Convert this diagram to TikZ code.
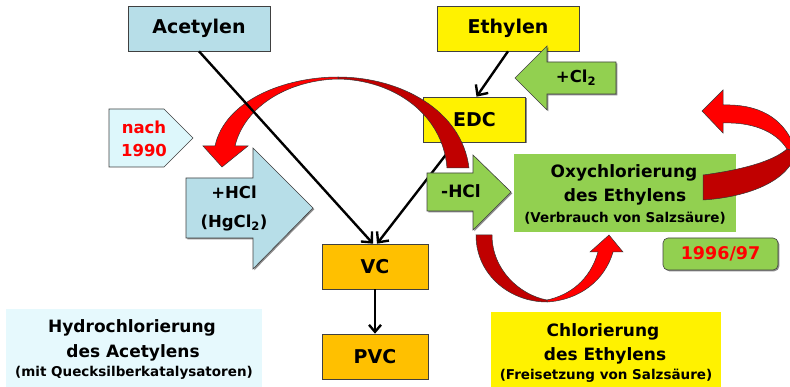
\documentclass[tikz,border=0pt]{standalone}
\usepackage{fontspec}
\setmainfont{DejaVu Sans}
\usetikzlibrary{arrows.meta,shadows}
\definecolor{lblue}{HTML}{B7DEE8}
\definecolor{pale}{HTML}{DDF7FB}
\definecolor{paler}{HTML}{E6F9FD}
\definecolor{ygreen}{HTML}{92D050}
\definecolor{orng}{HTML}{FFC000}
\definecolor{dred}{HTML}{C00000}
\definecolor{bred}{HTML}{FF0000}
\begin{document}
\begin{tikzpicture}[x=1pt,y=-1pt,
 shad/.style={drop shadow={shadow xshift=1.3pt,shadow yshift=-1.3pt,fill=black,opacity=.45}},
 box/.style={draw=black!75, line width=0.6pt, inner sep=0pt, shad, font=\fontsize{19}{22}\selectfont\bfseries},
 area/.style={inner sep=0pt},
 big/.style={inner sep=0pt, anchor=base, font=\fontsize{17}{20}\selectfont\bfseries},
 small/.style={inner sep=0pt, anchor=base, font=\fontsize{13.5}{16}\selectfont\bfseries},
 conn/.style={line width=2.4pt, -{Straight Barb[length=8pt,width=15pt,line width=2.4pt]}},
 blk/.style={draw=black!75, line width=0.6pt, shad},
 ribbon/.style={draw=black!80, line width=0.5pt},
 lbl/.style={inner sep=0pt, align=center, font=\fontsize{16.5}{29}\selectfont\bfseries},
]
\useasboundingbox (0,0) rectangle (790,387);

% boxes
\node[box, fill=lblue, minimum width=142pt, minimum height=45pt] (acet) at (199,28.5) {Acetylen};
\node[box, fill=yellow, minimum width=142pt, minimum height=45pt] (ethy) at (508,28.5) {Ethylen};
\node[box, fill=yellow, minimum width=102pt, minimum height=45pt] (edc) at (474.5,119.5) {EDC};
\node[box, fill=orng, minimum width=106pt, minimum height=45pt] (vc) at (375,266.5) {VC};
\node[box, fill=orng, minimum width=106pt, minimum height=45pt] (pvc) at (375,356.5) {PVC};

\node[area, fill=ygreen, minimum width=222pt, minimum height=78pt] (oxy) at (625,193) {};
\node[big] (oxy1) at (624,178) {Oxychlorierung};
\node[big] (oxy2) at (625,202) {des Ethylens};
\node[small] (oxy3) at (625,223) {(Verbrauch von Salzsäure)};

\node[draw=black!75, line width=0.6pt, rounded corners=5pt, fill=ygreen, shad, minimum width=115pt, minimum height=32pt, inner sep=0pt, text=bred, font=\fontsize{17.5}{20}\selectfont\bfseries] (yr) at (720.5,254) {1996/97};

\node[area, fill=paler, minimum width=256pt, minimum height=78pt] (hydro) at (134,348) {};
\node[big] (hy1) at (132,333) {Hydrochlorierung};
\node[big] (hy2) at (133,358) {des Acetylens};
\node[small] (hy3) at (134,377) {(mit Quecksilberkatalysatoren)};

\node[area, fill=yellow, minimum width=230pt, minimum height=75pt] (chlor) at (606,349.5) {};
\node[big] (ch1) at (603,337) {Chlorierung};
\node[big] (ch2) at (605,360) {des Ethylens};
\node[small] (ch3) at (606,380) {(Freisetzung von Salzsäure)};

% block arrows
\draw[blk, fill=ygreen] (515,78) -- (547,46) -- (547,62) -- (616,62) -- (616,94) -- (547,94) -- (547,110) -- cycle;
\node[lbl] (cl) at (576,78) {+Cl\textsubscript{2}};
\draw[blk, fill=lblue] (186,178) -- (253,178) -- (253,148) -- (313,208) -- (253,269) -- (253,238) -- (186,238) -- cycle;
\node[lbl] (hcl) at (234,209) {+HCl\\(HgCl\textsubscript{2})};
\draw[draw=black!75, line width=0.6pt, fill=pale] (109,109) -- (164,109) -- (193,138) -- (164,167) -- (109,167) -- cycle;
\node[lbl, text=bred, font=\fontsize{16.5}{23}\selectfont\bfseries] (nach) at (144,138.5) {nach\\1990};

% connectors
\draw[conn] ([xshift=-19pt]edc.south) -- ([xshift=2pt]vc.north);
\draw[conn] (ethy.south) -- ([xshift=2pt]edc.north);
\draw[conn, -{Straight Barb[length=7pt,width=12pt,line width=2.4pt]}] (vc.south) -- (pvc.north);

% -HCl arrow
\draw[blk, fill=ygreen] (427,173) -- (473,173) -- (473,155) -- (511,192) -- (473,230) -- (473,211) -- (427,211) -- cycle;
\node[lbl, font=\fontsize{17}{20}\selectfont\bfseries] (mhcl) at (461,191) {-HCl};

% red ribbon arrow from EDC towards +HCl
\filldraw[ribbon, fill=dred] (469,168) .. controls (462,110) and (400,77) .. (338,77)
  -- (338,79) .. controls (395,80) and (443,115) .. (447,168) -- cycle;
\filldraw[ribbon, fill=bred] (338,77) .. controls (285,77) and (225,100) .. (215,146)
  -- (203,146) -- (222,167) -- (248,146) -- (235,146)
  .. controls (245,105) and (290,80) .. (338,79) -- cycle;

\draw[conn] (acet.south) -- ([xshift=-2pt]vc.north);

% red ribbon arrow on the right
\begin{scope}
\clip (0,0) rectangle (790,387);
\filldraw[ribbon, fill=bred] (702,111) -- (723,90) -- (723,105)
  .. controls (755,104) and (785,115) .. (796,152)
  -- (787,149) .. controls (775,130) and (750,122) .. (723,123) -- (723,133) -- cycle;
\filldraw[ribbon, fill=dred] (703,175) .. controls (740,170) and (772,162) .. (787,149)
  -- (796,152) .. controls (790,180) and (750,197) .. (703,200) -- cycle;
\end{scope}

% red ribbon arrow at the bottom
\filldraw[ribbon, fill=dred] (476,235) .. controls (476,275) and (510,302) .. (547,302)
  -- (547,300) .. controls (520,295) and (492,270) .. (492,235) -- cycle;
\filldraw[ribbon, fill=bred] (547,302) .. controls (580,300) and (605,280) .. (613,252)
  -- (623,252) -- (609,235) -- (590,252) -- (598,252)
  .. controls (590,280) and (570,295) .. (547,300) -- cycle;
\end{tikzpicture}
\end{document}
